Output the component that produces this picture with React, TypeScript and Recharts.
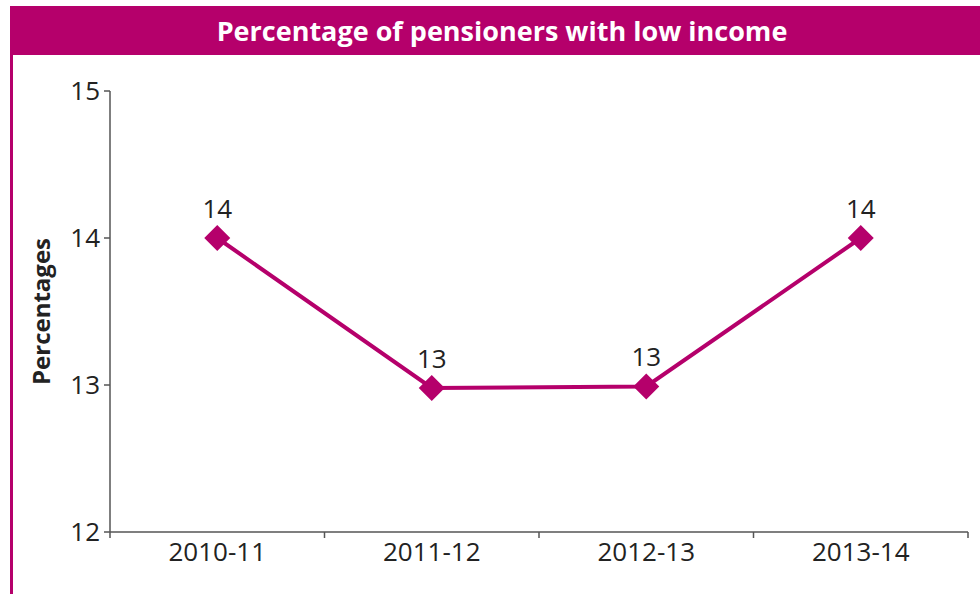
import { LineChart, Line, XAxis, YAxis, LabelList } from 'recharts';

const years = ['2010-11', '2011-12', '2012-13', '2013-14'];
const lowIncomeShare = [14, 12.98, 12.99, 14];
const yTicks = [12, 13, 14, 15];
const bandEdges = [0, 1, 2, 3, 4];

const data = years.map((year, i) => ({ year, pos: i + 0.5, share: lowIncomeShare[i] }));

const MAGENTA = '#B5006B';
const FONT = '"Open Sans", "Noto Sans", sans-serif';

const Diamond = (props: any) => {
  const { cx, cy } = props;
  if (cx == null || cy == null) return null;
  const r = 13;
  return <polygon points={`${cx},${cy - r} ${cx + r},${cy} ${cx},${cy + r} ${cx - r},${cy}`} fill={MAGENTA} />;
};

export default function App() {
  return (
    <div style={{ position: 'absolute', left: 0, top: 0, width: 980, height: 594, background: '#fff', fontFamily: FONT, overflow: 'hidden' }}>
      <div
        style={{
          position: 'absolute', left: 10, top: 6, width: 970, height: 49, background: MAGENTA, color: '#fff',
          fontWeight: 700, fontSize: 27, lineHeight: '49px', textAlign: 'center', paddingLeft: 14, boxSizing: 'border-box',
        }}
      >
        Percentage of pensioners with low income
      </div>
      <div style={{ position: 'absolute', left: 10, top: 55, width: 2.5, height: 539, background: MAGENTA }} />
      <div style={{ position: 'absolute', left: 0, top: 0 }}>
        <LineChart width={980} height={594} data={data} margin={{ top: 91, right: 12, left: 0, bottom: 0 }}>
          <XAxis
            dataKey="pos"
            type="number"
            domain={[0, 4]}
            ticks={bandEdges}
            height={8}
            tickSize={6}
            tickFormatter={() => ''}
            axisLine={{ stroke: '#555', strokeWidth: 1.5 }}
            tickLine={{ stroke: '#555', strokeWidth: 1.5 }}
          />
          <XAxis
            xAxisId="cat"
            dataKey="year"
            type="category"
            scale="band"
            height={54}
            axisLine={false}
            tickLine={false}
            tickSize={0}
            tickMargin={3}
            tick={{ fill: '#222', fontSize: 26, fontFamily: FONT }}
          />
          <YAxis
            domain={[12, 15]}
            ticks={yTicks}
            width={110}
            tickSize={6}
            tickMargin={4}
            axisLine={{ stroke: '#555', strokeWidth: 1.5 }}
            tickLine={{ stroke: '#555', strokeWidth: 1.5 }}
            tick={{ fill: '#222', fontSize: 26, fontFamily: FONT }}
            label={{ value: 'Percentages', angle: -90, position: 'insideLeft', offset: 41, fill: '#222', fontSize: 24, fontWeight: 700, fontFamily: FONT, style: { textAnchor: 'middle' } }}
          />
          <Line
            type="linear"
            dataKey="share"
            stroke={MAGENTA}
            strokeWidth={4}
            dot={<Diamond />}
            activeDot={false}
            isAnimationActive={false}
          >
            <LabelList dataKey="share" position="top" offset={20} formatter={(v: any) => Math.round(Number(v))} fill="#222" fontSize={26} fontFamily={FONT} />
          </Line>
        </LineChart>
      </div>
    </div>
  );
}
